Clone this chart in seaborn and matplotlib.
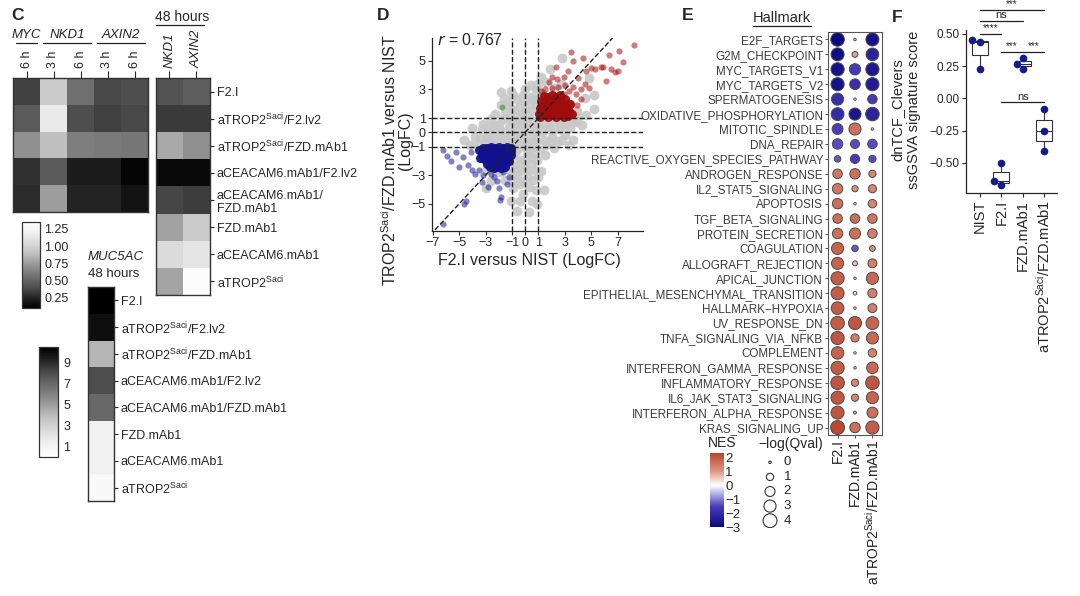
import numpy as np
import pandas as pd
import matplotlib
matplotlib.use('Agg')
import matplotlib.pyplot as plt
import seaborn as sns
from matplotlib.colors import LinearSegmentedColormap, Normalize
from matplotlib.cm import ScalarMappable
from matplotlib.lines import Line2D

# ---------------- data ----------------
# panel C
c_rows = ['F2.I', 'aTROP2$^{Saci}$/F2.lv2', 'aTROP2$^{Saci}$/FZD.mAb1',
          'aCEACAM6.mAb1/F2.lv2', 'aCEACAM6.mAb1/\nFZD.mAb1', 'FZD.mAb1',
          'aCEACAM6.mAb1', 'aTROP2$^{Saci}$']
time_cols = ['6 h', '3 h', '6 h', '3 h', '6 h']
gene_groups = [('MYC', 0, 1), ('NKD1', 1, 3), ('AXIN2', 3, 5)]
early_vals = [[0.35, 0.95, 0.55, 0.38, 0.40],
              [0.45, 1.15, 0.40, 0.35, 0.38],
              [0.70, 0.90, 0.62, 0.60, 0.58],
              [0.30, 0.45, 0.22, 0.22, 0.12],
              [0.28, 0.75, 0.25, 0.25, 0.18]]
late_genes = ['NKD1', 'AXIN2']
late_vals = [[0.42, 0.47], [0.33, 0.33], [0.80, 0.70], [0.14, 0.14],
             [0.37, 0.34], [0.77, 0.95], [1.05, 1.12], [0.78, 1.32]]
muc5ac_vals = [10.5, 10.0, 4.2, 8.0, 7.0, 1.2, 1.2, 0.5]

# panel D
grey_pts = [(-1.4, -0.8), (-1.1, -0.3), (-0.8, 0.2), (-0.5, -0.6), (-0.2, 0.1), (0.1, -0.4),
            (0.4, 0.3), (0.7, -0.2), (1.0, 0.5), (1.3, 0.0), (-0.9, 0.8), (-0.3, 0.9), (0.2, 1.1),
            (0.6, 0.8), (-1.2, 0.4), (-0.6, -1.2), (0.0, -1.0), (0.5, -0.9), (0.9, -0.6), (1.4, -0.5),
            (-2.2, -0.6), (-2.6, -0.2), (-3.0, -0.7), (-3.4, -0.4), (-3.8, -0.3), (-2.0, 0.2),
            (-2.4, 0.5), (-1.7, 0.9), (-1.9, -0.2), (-2.8, 0.1), (-1.5, 1.4), (-1.0, 1.6), (-0.5, 1.8),
            (0.0, 1.5), (-1.8, 1.9), (-1.2, 2.2), (-0.6, 2.3), (0.4, 2.5), (0.8, 1.9), (-2.3, 1.3),
            (-1.6, 2.4), (0.3, 2.0), (1.8, 0.3), (2.2, 0.7), (2.6, 0.2), (3.0, 0.6), (3.4, 0.3),
            (3.8, 0.7), (2.0, -0.3), (2.5, -0.6), (3.0, -0.2), (1.6, -0.9), (2.2, -1.1), (4.3, 0.5),
            (3.6, -0.5), (-0.9, -1.6), (-0.4, -1.9), (0.1, -1.6), (0.6, -1.4), (-0.8, -2.3),
            (-0.2, -2.6), (0.4, -2.2), (0.9, -1.9), (-0.6, -3.0), (0.2, -3.1), (-1.2, -2.6),
            (-0.4, -3.6), (0.6, -3.3), (-0.9, -3.9), (-0.2, -4.3), (0.8, -4.0), (-0.6, -5.5),
            (1.4, -4.0), (0.5, -4.8), (-1.1, -4.8), (1.2, -2.7), (1.5, -1.6), (0.8, 3.0), (1.3, 2.7),
            (2.2, 3.1), (2.7, 3.4), (0.0, 3.0), (1.6, 3.5), (2.8, 5.2), (3.4, 2.0), (3.9, 1.5),
            (4.5, 2.4), (-3.2, 0.6), (-4.2, -0.9), (-3.6, -0.9), (-2.5, -2.3), (-3.0, -2.6),
            (-2.0, -2.8), (-1.5, -3.3), (4.8, 3.8), (5.2, 2.6), (-0.3, 0.5), (0.6, 0.1), (-0.7, -0.2),
            (1.1, -1.2), (-1.5, 0.0), (0.3, -0.7), (2.4, 1.0), (-2.6, 0.9), (-0.1, 2.2), (1.0, 2.4),
            (-3.3, 0.2), (-2.9, -0.3), (-2.5, -0.8), (-1.6, -0.5), (-1.3, 1.0), (-0.8, 1.3),
            (-0.4, 1.3), (0.5, 1.5), (1.6, 0.6), (2.0, 0.1), (2.8, -0.5), (3.3, -0.9), (2.6, 0.6),
            (1.9, -0.7), (0.9, 0.1), (0.2, 0.6), (-0.6, 0.6), (-1.0, -0.8), (-0.3, -0.3),
            (0.6, -0.6), (0.2, -1.3), (-0.2, -2.1), (0.5, -1.8), (-0.6, -2.7), (0.1, -2.6),
            (0.7, -2.6), (-0.2, -3.4), (0.3, -3.8), (-1.0, -3.3), (1.0, -3.1), (-2.0, 0.6),
            (-2.7, 0.4), (-1.3, 1.9), (-0.9, 2.6), (-0.2, 2.6), (0.6, 2.3), (0.4, 3.3), (1.0, 3.4),
            (4.0, 1.1), (3.6, 0.8), (4.6, 1.2), (5.2, 1.6), (1.9, 4.4), (1.2, 3.9), (-4.6, -0.5),
            (-4.0, 0.3), (-1.8, 2.8), (-1.1, 2.9), (-0.4, -4.8), (0.3, -5.6), (0.9, -5.0),
            (-2.3, -2.6), (-2.6, -3.4), (-3.0, -3.9)]
red_core = [(1.1, 1.1), (1.4, 1.2), (1.7, 1.1), (2.0, 1.2), (2.3, 1.1), (2.6, 1.2), (2.9, 1.1),
            (3.2, 1.15), (1.2, 1.5), (1.5, 1.45), (1.8, 1.55), (2.1, 1.5), (2.4, 1.45), (2.7, 1.5),
            (3.0, 1.45), (3.3, 1.5), (1.3, 1.85), (1.6, 1.8), (1.9, 1.9), (2.2, 1.85), (2.5, 1.8),
            (2.8, 1.9), (3.1, 1.8), (1.2, 2.2), (1.5, 2.15), (1.8, 2.25), (2.1, 2.2), (2.4, 2.15),
            (2.7, 2.2), (3.0, 2.3), (1.4, 2.55), (1.7, 2.5), (2.0, 2.6), (2.3, 2.5), (2.6, 2.6),
            (1.05, 1.3), (1.1, 1.7), (3.5, 1.3), (3.4, 2.0)]
red_out = [(1.5, 3.0), (2.0, 3.1), (2.5, 3.2), (3.0, 3.3), (3.3, 2.9), (1.8, 3.5), (2.4, 3.7),
           (2.9, 3.9), (3.6, 3.2), (3.8, 2.7), (4.2, 3.0), (4.0, 3.8), (4.5, 3.4), (4.8, 3.1),
           (3.45, 5.6), (4.4, 5.2), (5.7, 4.6), (6.1, 3.6), (6.5, 4.4), (7.0, 4.3), (7.4, 4.9),
           (7.1, 5.7), (8.2, 6.1), (5.0, 4.5), (5.3, 4.4), (5.9, 4.6), (4.6, 4.3), (3.2, 4.3),
           (2.3, 4.6), (2.0, 3.9), (4.2, 2.3), (3.9, 1.9), (1.2, 2.9), (6.3, 5.4), (6.8, 4.2),
           (3.6, 5.0), (2.9, 2.7)]
blue_core = [(-1.1, -1.1), (-1.4, -1.05), (-1.7, -1.1), (-2.0, -1.05), (-2.3, -1.1), (-2.6, -1.05),
             (-2.9, -1.1), (-3.2, -1.1), (-1.2, -1.4), (-1.5, -1.45), (-1.8, -1.4), (-2.1, -1.45),
             (-2.4, -1.4), (-2.7, -1.45), (-3.0, -1.4), (-3.3, -1.5), (-1.3, -1.75), (-1.6, -1.8),
             (-1.9, -1.75), (-2.2, -1.8), (-2.5, -1.75), (-2.8, -1.8), (-3.1, -1.85), (-1.4, -2.1),
             (-1.7, -2.15), (-2.0, -2.1), (-2.3, -2.15), (-2.6, -2.1), (-2.9, -2.2), (-1.5, -2.45),
             (-1.8, -2.5), (-2.1, -2.45), (-2.4, -2.5), (-2.7, -2.4), (-1.05, -1.3), (-1.1, -1.6),
             (-1.2, -2.0), (-3.5, -1.2), (-3.4, -1.8)]
blue_out = [(-5.95, -1.65), (-5.6, -2.0), (-5.2, -1.4), (-4.7, -1.75), (-4.3, -2.25), (-4.1, -1.4),
            (-3.5, -2.6), (-2.8, -3.8), (-2.4, -3.1), (-2.1, -3.4), (-1.8, -4.5), (-1.7, -2.8),
            (-1.2, -3.1), (-1.9, -4.7), (-4.5, -4.8), (-4.6, -5.0), (-3.8, -2.9), (-3.2, -3.0),
            (-2.6, -2.9), (-2.0, -3.9), (-1.4, -3.6), (-6.2, -1.2), (-5.0, -2.4), (-4.0, -2.6),
            (-3.3, -3.5), (-6.2, -6.4)]
green_pts = [(-1.75, 1.75)]
r_value = 0.767

# panel E
hallmarks = ['E2F_TARGETS', 'G2M_CHECKPOINT', 'MYC_TARGETS_V1', 'MYC_TARGETS_V2',
             'SPERMATOGENESIS', 'OXIDATIVE_PHOSPHORYLATION', 'MITOTIC_SPINDLE', 'DNA_REPAIR',
             'REACTIVE_OXYGEN_SPECIES_PATHWAY', 'ANDROGEN_RESPONSE', 'IL2_STAT5_SIGNALING',
             'APOPTOSIS', 'TGF_BETA_SIGNALING', 'PROTEIN_SECRETION', 'COAGULATION',
             'ALLOGRAFT_REJECTION', 'APICAL_JUNCTION', 'EPITHELIAL_MESENCHYMAL_TRANSITION',
             'HALLMARK\u2212HYPOXIA', 'UV_RESPONSE_DN', 'TNFA_SIGNALING_VIA_NFKB', 'COMPLEMENT',
             'INTERFERON_GAMMA_RESPONSE', 'INFLAMMATORY_RESPONSE', 'IL6_JAK_STAT3_SIGNALING',
             'INTERFERON_ALPHA_RESPONSE', 'KRAS_SIGNALING_UP']
e_cols = ['F2.I', 'FZD.mAb1', 'aTROP2$^{Saci}$/FZD.mAb1']
nes_f2 = [-3.0, -2.8, -2.7, -2.7, -1.9, -2.0, -1.5, -1.4, -1.3, 1.5, 1.5, 1.6, 1.6, 1.6,
          1.8, 1.8, 1.9, 1.9, 1.9, 1.9, 2.0, 1.8, 1.9, 2.0, 2.0, 2.0, 2.2]
nes_fzd = [0.3, 0.9, -1.6, -1.9, 0.0, -2.6, 1.6, -1.4, -1.6, 1.6, 1.1, 0.0, 1.6, 1.6,
           -1.3, 0.6, 0.0, 0.2, 0.0, 2.0, 1.4, 0.0, 0.0, 1.3, 1.3, -0.5, 1.6]
nes_trop = [-2.7, -2.2, -2.5, -2.4, -1.6, -2.2, 0.0, -1.4, -1.4, 1.3, 1.3, 1.3, 1.5, 1.4,
            1.1, 1.4, 1.7, 1.4, 1.4, 1.8, 1.7, 1.3, 1.7, 2.0, 1.8, 1.6, 1.9]
q_f2 = [3.8, 3.5, 3.6, 3.6, 3.0, 3.4, 2.4, 2.2, 0.8, 1.8, 2.2, 2.2, 1.8, 2.2,
        3.0, 3.0, 3.6, 3.5, 3.3, 3.8, 3.6, 3.2, 3.6, 3.8, 3.6, 3.5, 4.0]
q_fzd = [0.0, 0.6, 2.6, 2.3, 0.0, 3.0, 3.0, 1.6, 1.7, 2.2, 0.7, 0.0, 1.8, 2.5,
         0.8, 0.4, 0.0, 0.15, 0.0, 3.5, 1.3, 0.0, 0.0, 1.0, 1.0, 0.05, 2.2]
q_trop = [3.5, 3.3, 3.6, 3.6, 1.8, 3.8, 0.0, 1.8, 1.0, 1.0, 1.3, 1.4, 1.8, 1.8,
          0.6, 1.6, 3.0, 1.7, 1.6, 3.4, 3.0, 1.4, 2.7, 3.8, 3.0, 2.4, 3.6]
q_levels = [0, 1, 2, 3, 4]
nes_ticks = [2, 1, 0, -1, -2, -3]

# panel F
f_groups = ['NIST', 'F2.I', 'FZD.mAb1', 'aTROP2$^{Saci}$/FZD.mAb1']
nist_scores = [0.45, 0.44, 0.23]
f2_scores = [-0.50, -0.64, -0.67]
fzd_scores = [0.31, 0.27, 0.23]
trop_scores = [-0.08, -0.25, -0.41]
# (from group, to group, height, label)
f_brackets = [(0, 3, 0.685, '***'), (0, 2, 0.60, 'ns'), (0, 1, 0.50, '****'),
              (1, 2, 0.36, '***'), (2, 3, 0.36, '***'), (1, 3, -0.03, 'ns')]

# ---------------- figure ----------------
sns.set_style('ticks')
plt.rcParams['font.family'] = ['Liberation Sans', 'DejaVu Sans']
plt.rcParams['mathtext.default'] = 'regular'
plt.rcParams['axes.linewidth'] = 0.9

W, H = 1080, 596
fig = plt.figure(figsize=(W / 100, H / 100), dpi=100)


def box(x0, y0, x1, y1):
    return [x0 / W, 1 - y1 / H, (x1 - x0) / W, (y1 - y0) / H]


def ftext(x, y, s, **kw):
    fig.text(x / W, 1 - y / H, s, **kw)


def hline(x0, x1, y, **kw):
    fig.add_artist(Line2D([x0 / W, x1 / W], [1 - y / H, 1 - y / H],
                          transform=fig.transFigure, color='#222222', lw=0.9, **kw))


def frame(ax, color='#333333', lw=1.0):
    for sp in ax.spines.values():
        sp.set_visible(True)
        sp.set_color(color)
        sp.set_linewidth(lw)


# panel letters
for lab, x, y in [('C', 18, 16), ('D', 383, 16), ('E', 688, 16), ('F', 897, 17)]:
    ftext(x, y, lab, fontsize=12.5, fontweight='bold', ha='center', va='center')

# ---- C : early time points
ax1 = fig.add_axes(box(13, 78, 148, 212))
sns.heatmap(np.array(early_vals), ax=ax1, cmap='Greys_r', vmin=0.1, vmax=1.35, cbar=False,
            xticklabels=time_cols, yticklabels=False)
ax1.xaxis.tick_top()
ax1.tick_params(axis='x', top=True, bottom=False, length=5, width=0.8, pad=2,
                labelsize=9, labelrotation=90)
frame(ax1)
for gene, i0, i1 in gene_groups:
    xa = 13 + i0 * 27 + 3
    xb = 13 + i1 * 27 - 3
    ftext((xa + xb) / 2, 35, gene, fontsize=9.5, style='italic', ha='center', va='center')
    hline(xa, xb, 43)

# ---- C : 48 hours
ax2 = fig.add_axes(box(156, 78, 210, 295))
sns.heatmap(np.array(late_vals), ax=ax2, cmap='Greys_r', vmin=0.1, vmax=1.35, cbar=False,
            xticklabels=late_genes, yticklabels=c_rows)
ax2.xaxis.tick_top()
ax2.yaxis.tick_right()
ax2.tick_params(axis='x', top=True, bottom=False, length=5, width=0.8, pad=2,
                labelsize=9.5, labelrotation=90)
for t in ax2.get_xticklabels():
    t.set_style('italic')
ax2.tick_params(axis='y', right=True, left=False, length=3, width=0.8, pad=2,
                labelsize=9, labelrotation=0)
frame(ax2)
ftext(182, 17, '48 hours', fontsize=10, ha='center', va='center')
hline(156, 204, 25)

# colorbar for the qPCR heatmaps
cax1 = fig.add_axes(box(22, 222, 40, 308))
cb1 = fig.colorbar(ScalarMappable(Normalize(0.1, 1.35), 'Greys_r'), cax=cax1,
                   ticks=[0.25, 0.5, 0.75, 1.0, 1.25])
cb1.ax.set_yticklabels(['0.25', '0.50', '0.75', '1.00', '1.25'])
cb1.outline.set_edgecolor('#333333')
cax1.tick_params(left=True, right=True, direction='in', length=4, width=0.9,
                 color='#555555', labelsize=9, pad=3)

# ---- C : MUC5AC
ftext(88, 257, 'MUC5AC', fontsize=9.5, style='italic', ha='left', va='center')
ftext(88, 274, '48 hours', fontsize=9.5, ha='left', va='center')
ax3 = fig.add_axes(box(88, 287, 114, 501))
sns.heatmap(np.array(muc5ac_vals).reshape(-1, 1), ax=ax3, cmap='Greys', vmin=0, vmax=10.5,
            cbar=False, xticklabels=False, yticklabels=[r.replace('\n', '') for r in c_rows])
ax3.yaxis.tick_right()
ax3.tick_params(axis='y', right=True, left=False, length=3, width=0.8, pad=2,
                labelsize=9, labelrotation=0)
frame(ax3)

cax2 = fig.add_axes(box(39, 347, 58, 457))
cb2 = fig.colorbar(ScalarMappable(Normalize(0, 10.5), 'Greys'), cax=cax2, ticks=[1, 3, 5, 7, 9])
cb2.outline.set_edgecolor('#333333')
cax2.tick_params(left=True, right=True, direction='in', length=4, width=0.9,
                 color='#555555', labelsize=9, pad=4)

# ---- D : scatter
axD = fig.add_axes(box(432, 38, 643, 231))
gx, gy = zip(*grey_pts)
sns.scatterplot(x=list(gx), y=list(gy), ax=axD, color='#c8c8c8', s=50, linewidth=0, alpha=0.9)
px, py = zip(*green_pts)
sns.scatterplot(x=list(px), y=list(py), ax=axD, color='#4e9a4e', s=18, linewidth=0, alpha=0.7)
for pts, col, s, a in [(blue_out, '#1c1c98', 20, 0.55), (blue_core, '#101090', 42, 0.95),
                       (red_out, '#a51010', 20, 0.55), (red_core, '#a00c0c', 42, 0.95)]:
    bx, by = zip(*pts)
    sns.scatterplot(x=list(bx), y=list(by), ax=axD, color=col, s=s, linewidth=0, alpha=a)
for v in (-1, 0, 1):
    axD.axvline(v, ls='--', color='#222222', lw=1.0)
    axD.axhline(v, ls='--', color='#222222', lw=1.0)
axD.plot([-7.2, 7.0], [-7.2, 7.0], ls='--', color='#222222', lw=1.0)
axD.set_xlim(-7.05, 8.9)
axD.set_ylim(-6.9, 6.6)
axD.set_xticks([-7, -5, -3, -1, 0, 1, 3, 5, 7])
axD.set_xticklabels(['\u22127', '\u22125', '\u22123', '\u22121', '0', '1', '3', '5', '7'])
axD.set_yticks([-5, -3, -1, 0, 1, 3, 5])
axD.set_yticklabels(['\u22125', '\u22123', '\u22121', '0', '1', '3', '5'])
axD.tick_params(labelsize=9, length=3, width=0.8, pad=1.5, color='#333333')
sns.despine(ax=axD)
axD.text(0.025, 0.99, '$\\it{r}$ = %.3f' % r_value, transform=axD.transAxes,
         fontsize=11.5, ha='left', va='center')
ftext(529, 261, 'F2.I versus NIST (LogFC)', fontsize=11.5, ha='center', va='center')
ftext(390, 160, 'TROP2$^{Saci}$/FZD.mAb1 versus NIST', fontsize=11.5, rotation=90,
      ha='center', va='center')
ftext(405, 141, '(LogFC)', fontsize=11.5, rotation=90, ha='center', va='center')

# ---- E : hallmark dot plot
nes_cmap = LinearSegmentedColormap.from_list(
    'nes', [(0.0, '#08087e'), (0.28, '#4a3cbc'), (0.566, '#ffffff'),
            (0.75, '#de9a86'), (1.0, '#b8432c')])
nes_norm = Normalize(-3, 2.3)
df_e = pd.DataFrame({
    'pathway': hallmarks * 3,
    'group': np.repeat(e_cols, len(hallmarks)),
    'NES': nes_f2 + nes_fzd + nes_trop,
    'q': q_f2 + q_fzd + q_trop,
})
axE = fig.add_axes(box(828, 32, 882, 435))
sns.scatterplot(data=df_e, x='group', y='pathway', hue='NES', palette=nes_cmap,
                hue_norm=nes_norm, size='q', sizes=(3, 100), size_norm=(0, 4),
                edgecolor='#4a4a4a', linewidth=0.7, legend=False, ax=axE)
axE.set_xlim(-0.55, 2.55)
axE.set_ylim(len(hallmarks) - 0.5, -0.5)
axE.set_yticks(range(len(hallmarks)))
axE.set_yticklabels(hallmarks, color='#3c3c3c', fontsize=8.4)
axE.set_xticks(range(len(e_cols)))
axE.set_xticklabels(e_cols, rotation=90, fontsize=10, color='#222222')
axE.tick_params(axis='y', length=2.5, width=0.7, pad=1, color='#555555')
axE.tick_params(axis='x', length=2, width=0.7, pad=1, color='#555555')
axE.set_xlabel('')
axE.set_ylabel('')
frame(axE, color='#555555', lw=0.8)
ftext(782, 18, 'Hallmark', fontsize=10.5, ha='center', va='center')
hline(753, 811, 26)

# NES colour legend
caxE = fig.add_axes(box(710, 453, 724, 527))
cbE = fig.colorbar(ScalarMappable(nes_norm, nes_cmap), cax=caxE, ticks=nes_ticks)
cbE.ax.set_yticklabels([str(t).replace('-', '\u2212') for t in nes_ticks])
cbE.outline.set_visible(False)
caxE.tick_params(left=True, right=True, direction='in', length=3, width=0.8,
                 color='white', labelsize=9.5, pad=1)
ftext(722, 443, 'NES', fontsize=10, ha='center', va='center')

# size legend
axL = fig.add_axes(box(755, 455, 800, 528))
sns.scatterplot(x=[0] * len(q_levels), y=q_levels, size=q_levels, sizes=(3, 100),
                size_norm=(0, 4), color='white', edgecolor='#333333', linewidth=0.8,
                legend=False, ax=axL)
for q in q_levels:
    axL.text(0.9, q, str(q), fontsize=9.5, ha='left', va='center')
axL.set_xlim(-1, 2)
axL.set_ylim(4.5, -0.5)
axL.axis('off')
ftext(791, 444, '\u2212log(Qval)', fontsize=10, ha='center', va='center')

# ---- F : box plot
df_f = pd.DataFrame({
    'group': np.repeat(f_groups, 3),
    'score': nist_scores + f2_scores + fzd_scores + trop_scores,
})
axF = fig.add_axes(box(966, 30, 1057, 193))
sns.boxplot(data=df_f, x='group', y='score', ax=axF, width=0.75, color='white',
            linecolor='#333333', linewidth=0.8, fliersize=0, showcaps=False)
sns.swarmplot(data=df_f, x='group', y='score', ax=axF, color='#141c8c', size=5.5)
axF.set_xlim(-0.65, 3.6)
axF.set_ylim(-0.733, 0.53)
f_ticks = [-0.5, -0.25, 0.0, 0.25, 0.5]
axF.set_yticks(f_ticks)
axF.set_yticklabels([('%.2f' % v).replace('-', '\u2212') for v in f_ticks])
axF.set_xticks(range(len(f_groups)))
axF.set_xticklabels(f_groups, rotation=90, fontsize=10.5)
axF.tick_params(axis='y', labelsize=8.5, length=3, width=0.8, pad=1.5)
axF.tick_params(axis='x', length=3, width=0.8, pad=2)
axF.set_xlabel('')
axF.set_ylabel('')
sns.despine(ax=axF)
for i0, i1, yb, lab in f_brackets:
    axF.plot([i0, i1], [yb, yb], color='#222222', lw=0.9, clip_on=False)
    axF.text((i0 + i1) / 2, yb + 0.005, lab, fontsize=8 if lab == 'ns' else 7,
             ha='center', va='bottom', clip_on=False)
ftext(897, 110, 'dnTCF_Clevers', fontsize=10.5, rotation=90, ha='center', va='center')
ftext(914, 110, 'ssGSVA signature score', fontsize=10.5, rotation=90, ha='center', va='center')

fig.savefig('out.png', dpi=100, facecolor='white')
